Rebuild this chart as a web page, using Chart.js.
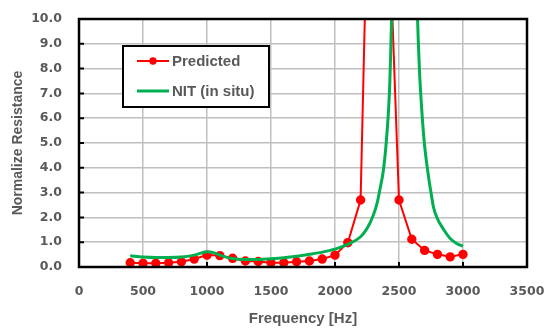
<!DOCTYPE html>
<html>
<head>
<meta charset="utf-8">
<script src="https://cdn.jsdelivr.net/npm/chart.js@4.4.1/dist/chart.umd.min.js"></script>
<style>
  html, body { margin: 0; padding: 0; background: #fff; }
  #wrap { width: 547px; height: 329px; position: relative; }
</style>
</head>
<body>
<div id="wrap"><canvas id="resistanceChart"></canvas></div>
<script>
// x axis ticks
const xTicks = [0, 500, 1000, 1500, 2000, 2500, 3000, 3500];

// Predicted (red, with markers)
const predFreq = [400, 500, 600, 700, 800, 900, 1000, 1100, 1200, 1300, 1400, 1500, 1600, 1700,
  1800, 1900, 2000, 2100, 2200, 2300, 2400, 2500, 2600, 2700, 2800, 2900, 3000];
const predValues = [0.17, 0.15, 0.15, 0.17, 0.21, 0.32, 0.48, 0.46, 0.35, 0.24, 0.22, 0.17, 0.17, 0.21,
  0.24, 0.32, 0.48, 0.98, 2.7, 25, 17, 2.7, 1.12, 0.67, 0.51, 0.41, 0.51];

// NIT (in situ) (green, line only)
const nitFreq = [400, 500, 600, 700, 800, 900, 1000, 1050, 1100, 1200, 1300, 1400, 1500, 1600, 1700,
  1800, 1900, 2000, 2100, 2200, 2250, 2300, 2330, 2350, 2378, 2400, 2418, 2428, 2436, 2443, 2480,
  2540, 2600, 2640, 2650, 2660, 2677, 2698, 2729, 2750, 2770, 2800, 2850, 2900, 2950, 3000];
const nitValues = [0.45, 0.40, 0.38, 0.38, 0.40, 0.48, 0.61, 0.58, 0.48, 0.34, 0.30, 0.30, 0.33, 0.37, 0.43,
  0.51, 0.60, 0.72, 0.91, 1.22, 1.55, 2.1, 2.6, 3.1, 3.9, 5.0, 6.3, 7.4, 8.8, 10.2, 18,
  26, 19, 10.8, 9.2, 7.9, 6.4, 5.0, 3.7, 3.0, 2.4, 1.95, 1.5, 1.15, 0.95, 0.84];

const seriesLabels = ['Predicted', 'NIT (in situ)'];

document.addEventListener("DOMContentLoaded", function () {
  const labelGray = '#595959';
  const gridGray = '#bfbfbf';
  const tickFont = { family: '"DejaVu Sans", sans-serif', size: 12.5, weight: 'bold' };

  const toPoints = (xs, ys) => xs.map((x, i) => ({ x: x, y: ys[i] }));

  // keep the plot area where the padding puts it
  const noOverhang = scale => {
    scale.paddingLeft = 0;
    scale.paddingRight = 0;
    scale.paddingTop = 0;
    scale.paddingBottom = 0;
  };

  // border round the plot area + inward tick marks
  const frame = {
    id: 'frame',
    beforeDatasetsDraw(chart) {
      const ctx = chart.ctx;
      const a = chart.chartArea;
      const xs = chart.scales.x, ys = chart.scales.y;
      ctx.save();
      ctx.strokeStyle = '#000';
      ctx.lineWidth = 2;
      ctx.beginPath();
      xs.ticks.forEach(t => {
        const px = xs.getPixelForValue(t.value);
        ctx.moveTo(px, a.bottom);
        ctx.lineTo(px, a.bottom - 5);
      });
      ys.ticks.forEach(t => {
        const py = ys.getPixelForValue(t.value);
        ctx.moveTo(a.left, py);
        ctx.lineTo(a.left + 5, py);
      });
      ctx.stroke();
      ctx.restore();
    },
    afterDatasetsDraw(chart) {
      const ctx = chart.ctx;
      const a = chart.chartArea;
      ctx.save();
      ctx.strokeStyle = '#000';
      ctx.lineWidth = 2.5;
      ctx.strokeRect(a.left, a.top, a.right - a.left, a.bottom - a.top);
      ctx.restore();
    }
  };

  // legend box inside the plot
  const boxLegend = {
    id: 'boxLegend',
    afterDraw(chart) {
      const ctx = chart.ctx;
      const bx = 123, by = 46, bw = 146, bh = 61;
      ctx.save();
      ctx.fillStyle = '#fff';
      ctx.fillRect(bx, by, bw, bh);
      ctx.strokeStyle = '#000';
      ctx.lineWidth = 2;
      ctx.strokeRect(bx, by, bw, bh);
      ctx.font = 'bold 15px "Liberation Sans", Arial, sans-serif';
      ctx.textBaseline = 'middle';
      chart.data.datasets.forEach((ds, i) => {
        const y = by + 15 + i * 30;
        ctx.strokeStyle = ds.borderColor;
        ctx.lineWidth = ds.borderWidth;
        ctx.beginPath();
        ctx.moveTo(137, y);
        ctx.lineTo(169, y);
        ctx.stroke();
        if (ds.pointRadius > 0) {
          ctx.fillStyle = ds.pointBackgroundColor;
          ctx.beginPath();
          ctx.arc(153, y, ds.pointRadius, 0, Math.PI * 2);
          ctx.fill();
        }
        ctx.fillStyle = labelGray;
        ctx.fillText(ds.label, 172, y + 1);
      });
      ctx.restore();
    }
  };

  const ctx = document.getElementById('resistanceChart');
  const chart = new Chart(ctx, {
    type: 'line',
    data: {
      datasets: [{
        label: seriesLabels[0],
        data: toPoints(predFreq, predValues),
        borderColor: '#ff0000',
        backgroundColor: '#ff0000',
        pointBackgroundColor: '#ff0000',
        pointBorderColor: '#ff0000',
        borderWidth: 2,
        pointRadius: 3.7,
        tension: 0,
        order: 1
      }, {
        label: seriesLabels[1],
        data: toPoints(nitFreq, nitValues),
        borderColor: '#00b050',
        backgroundColor: '#00b050',
        borderWidth: 3,
        pointRadius: 0,
        cubicInterpolationMode: 'monotone',
        order: 0
      }]
    },
    options: {
      responsive: true,
      maintainAspectRatio: false,
      animation: false,
      layout: { padding: { top: 19, right: 20, left: 0, bottom: 0 } },
      plugins: {
        legend: { display: false },
        tooltip: { enabled: false }
      },
      scales: {
        x: {
          type: 'linear',
          min: 0,
          max: 3500,
          afterBuildTicks: scale => { scale.ticks = xTicks.map(v => ({ value: v })); },
          afterFit: scale => { scale.height = 62; noOverhang(scale); },
          grid: { color: gridGray, lineWidth: 1.5, drawTicks: false },
          border: { display: false },
          ticks: {
            padding: 17,
            color: labelGray,
            callback: v => String(v),
            font: tickFont
          },
          title: {
            display: true,
            text: 'Frequency [Hz]',
            color: labelGray,
            padding: { top: 0, bottom: 1 },
            font: { family: '"Liberation Sans", Arial, sans-serif', size: 15, weight: 'bold' }
          }
        },
        y: {
          min: 0,
          max: 10,
          afterFit: scale => { scale.width = 79; noOverhang(scale); },
          grid: { color: gridGray, lineWidth: 1.5, drawTicks: false },
          border: { display: false },
          ticks: {
            stepSize: 1,
            padding: 17,
            color: labelGray,
            callback: v => v.toFixed(1),
            font: tickFont
          },
          title: {
            display: true,
            text: 'Normalize Resistance',
            color: labelGray,
            padding: { top: 10, bottom: 0 },
            font: { family: '"Liberation Sans", Arial, sans-serif', size: 14, weight: 'bold' }
          }
        }
      }
    },
    plugins: [frame, boxLegend]
  });
});
</script>
</body>
</html>
